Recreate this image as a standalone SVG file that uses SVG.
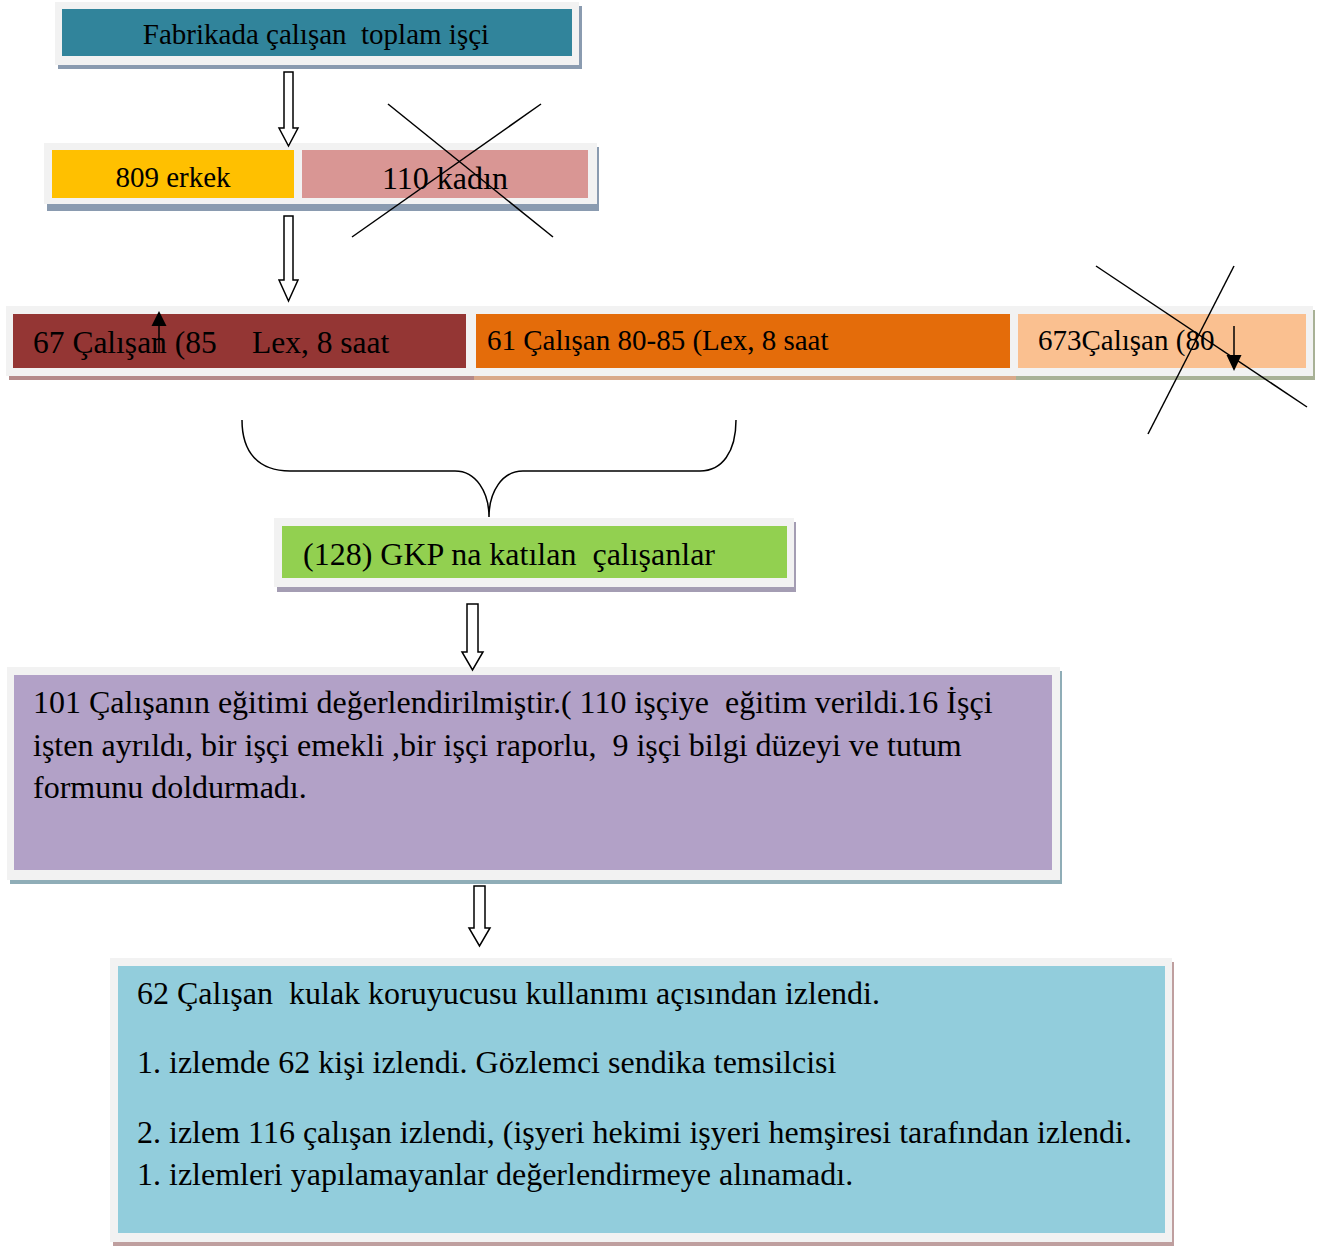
<svg xmlns="http://www.w3.org/2000/svg" width="1331" height="1246" viewBox="0 0 1331 1246">
  <style>
    .frame { fill: #f2f2f2; }
    .t { font-family: "Liberation Serif", "Times New Roman", serif; fill: #000; }
    .f29 { font-size: 29px; }
    .f31 { font-size: 31.5px; }
    .f32 { font-size: 32px; }
    .hollow { fill: #fff; stroke: #000; stroke-width: 1.5; stroke-linejoin: miter; }
    .line { fill: none; stroke: #000; stroke-width: 1.5; }
    .head { fill: #000; stroke: none; }
  </style>
  <rect width="1331" height="1246" fill="#fff"/>

  <!-- total workers -->
  <g id="node-total">
    <rect x="58" y="6" width="524" height="63" fill="#8a9bb0"/>
    <rect class="frame" x="55" y="2" width="524" height="63"/>
    <rect x="62" y="9" width="510" height="47" fill="#31849b"/>
    <text class="t f29" x="316" y="44" text-anchor="middle" xml:space="preserve">Fabrikada çalışan  toplam işçi</text>
  </g>

  <!-- men -->
  <g id="node-men">
    <rect x="47" y="147" width="254" height="64" fill="#8a9bb0"/>
    <rect class="frame" x="44" y="143" width="254" height="61"/>
    <rect x="52" y="150" width="242" height="48" fill="#ffc000"/>
    <text class="t f29" x="173" y="187" text-anchor="middle">809 erkek</text>
  </g>

  <!-- women -->
  <g id="node-women">
    <rect x="300" y="147" width="299" height="64" fill="#8a9bb0"/>
    <rect class="frame" x="297" y="143" width="300" height="61"/>
    <rect x="302" y="150" width="286" height="48" fill="#d99694"/>
    <text class="t f32" x="445" y="189" text-anchor="middle">110 kadın</text>
  </g>

  <!-- group 85 dB and above -->
  <g id="node-85">
    <rect x="9" y="310" width="467" height="70" fill="#b48a8a"/>
    <rect class="frame" x="6" y="306" width="467" height="70"/>
    <rect x="13" y="314" width="453" height="54" fill="#943634"/>
    <text class="t f31" x="33" y="353">67 Çalışan (85</text>
    <text class="t f31" x="252" y="353">Lex, 8 saat</text>
  </g>

  <!-- group 80-85 dB -->
  <g id="node-80-85">
    <rect x="474" y="310" width="546" height="70" fill="#d9a98a"/>
    <rect class="frame" x="473" y="306" width="545" height="70"/>
    <rect x="476" y="314" width="534" height="54" fill="#e46c0a"/>
    <text class="t f29" x="487" y="350">61 Çalışan 80-85 (Lex, 8 saat</text>
  </g>

  <!-- group below 80 dB -->
  <g id="node-80">
    <rect x="1016" y="310" width="299" height="70" fill="#a8b196"/>
    <rect class="frame" x="1012" y="306" width="301" height="70"/>
    <rect x="1018" y="314" width="288" height="54" fill="#fac090"/>
    <text class="t f29" x="1038" y="350">673Çalışan (80</text>
  </g>

  <!-- hearing conservation programme -->
  <g id="node-gkp">
    <rect x="277" y="522" width="519" height="70" fill="#a49db3"/>
    <rect class="frame" x="274" y="518" width="520" height="69"/>
    <rect x="282" y="526" width="505" height="52" fill="#92d050"/>
    <text class="t f32" x="303" y="565" xml:space="preserve">(128) GKP na katılan  çalışanlar</text>
  </g>

  <!-- training evaluation -->
  <g id="node-training">
    <rect x="10" y="671" width="1052" height="213" fill="#8fadb7"/>
    <rect class="frame" x="7" y="667" width="1053" height="213"/>
    <rect x="14" y="675" width="1038" height="195" fill="#b2a1c7"/>
    <text class="t f32" xml:space="preserve">
      <tspan x="33" y="713">101 Çalışanın eğitimi değerlendirilmiştir.( 110 işçiye  eğitim verildi.16 İşçi</tspan>
      <tspan x="33" y="756">işten ayrıldı, bir işçi emekli ,bir işçi raporlu,  9 işçi bilgi düzeyi ve tutum</tspan>
      <tspan x="33" y="798">formunu doldurmadı.</tspan>
    </text>
  </g>

  <!-- ear protection follow-up -->
  <g id="node-followup">
    <rect x="113" y="962" width="1061" height="284" fill="#bf9f9f"/>
    <rect class="frame" x="110" y="958" width="1062" height="284"/>
    <rect x="118" y="966" width="1047" height="267" fill="#92cddc"/>
    <text class="t f32" xml:space="preserve">
      <tspan x="137" y="1004">62 Çalışan  kulak koruyucusu kullanımı açısından izlendi.</tspan>
      <tspan x="137" y="1073">1. izlemde 62 kişi izlendi. Gözlemci sendika temsilcisi</tspan>
      <tspan x="137" y="1143">2. izlem 116 çalışan izlendi, (işyeri hekimi işyeri hemşiresi tarafından izlendi.</tspan>
      <tspan x="137" y="1185">1. izlemleri yapılamayanlar değerlendirmeye alınamadı.</tspan>
    </text>
  </g>

  <!-- connectors, brace and strike-through marks -->
  <g id="connectors">
    <polygon class="hollow" points="284,72 293,72 293,128 298,128 288.5,146 279,128 284,128"/>
    <polygon class="hollow" points="284,216 293,216 293,280 298,280 288.5,301 279,280 284,280"/>
    <polygon class="hollow" points="467,604 478,604 478,652 483,652 472.5,670 462,652 467,652"/>
    <polygon class="hollow" points="474,886 485,886 485,928 490,928 479.5,946 469,928 474,928"/>

    <path class="line" d="M242,420 C242,452 258,471 290,471 L455,471 C476,471 489,492 489,517 C489,492 502,471 523,471 L700,471 C722,471 736,452 736,420"/>

    <line class="line" x1="388" y1="104" x2="553" y2="237"/>
    <line class="line" x1="541" y1="104" x2="352" y2="237"/>
    <line class="line" x1="1096" y1="266" x2="1307" y2="407"/>
    <line class="line" x1="1234" y1="266" x2="1148" y2="434"/>

    <line class="line" x1="159" y1="353" x2="159" y2="324"/>
    <polygon class="head" points="159,311 166.5,326 151.5,326"/>
    <line class="line" x1="1234" y1="326" x2="1234" y2="357"/>
    <polygon class="head" points="1234,371 1241.5,355 1226.5,355"/>
  </g>
</svg>
